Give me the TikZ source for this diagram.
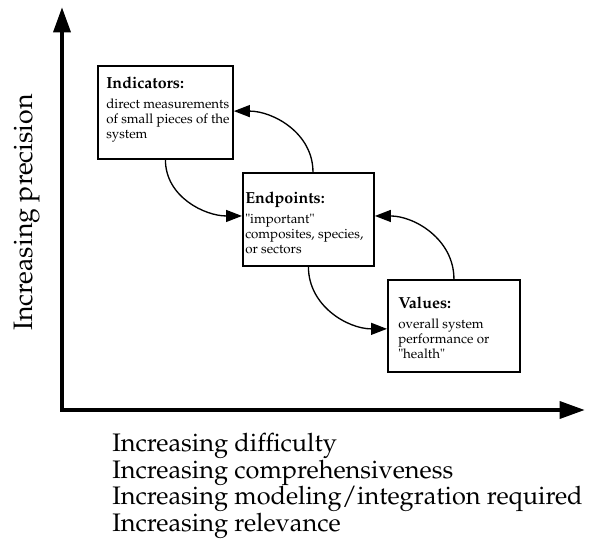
\documentclass[tikz,border=0pt]{standalone}
\usepackage[T1]{fontenc}
\usepackage{mathpazo}
\usepackage{pgf,tikz}
\usetikzlibrary{arrows.meta}
\begin{document}
\begin{tikzpicture}[line join=miter,x=0.75pt,y=0.75pt,
		stage/.style={draw,line width=1.4pt,anchor=north west,inner sep=0pt},
		stagetext/.style={anchor=north west,inner sep=0pt,align=left,font=\fontsize{10}{11}\selectfont},
		axistext/.style={inner sep=0pt,font=\fontsize{19}{20}\selectfont},
		axis/.style={line width=3.3pt,{Triangle[length=19pt,width=12.5pt]}-{Triangle[length=19pt,width=12.5pt]}},
		flow/.style={line width=1pt,-{Triangle[length=12pt,width=9pt]}}]
		\useasboundingbox (0,0) rectangle (596,540);
		\coordinate (ytip) at (62,533);
		\coordinate (o) at (62,130);
		\coordinate (xtip) at (585,130);
		\draw[axis] (ytip) -- (o) -- (xtip);
		\node[axistext,font=\fontsize{20}{20}\selectfont,rotate=90,anchor=base] (ylab) at (32,327.5) {Increasing precision};
		\node[axistext,anchor=north west,align=left] (xlab) at (112,107) {Increasing difficulty\\Increasing comprehensiveness\\Increasing modeling/integration required\\Increasing relevance};
		\node[stage,minimum width=101.25pt,minimum height=69.75pt] (ind) at (97,475) {};
		\node[stage,minimum width=98.25pt,minimum height=69.75pt] (endp) at (242,368) {};
		\node[stage,minimum width=99pt,minimum height=69pt] (val) at (387,261) {};
		\node[stagetext] (indtext) at (106,463) {{\fontsize{12}{11}\selectfont\bfseries Indicators:}\\[4pt]direct measurements\\of small pieces of the\\system};
		\node[stagetext] (endptext) at (245,348) {{\fontsize{12}{11}\selectfont\bfseries Endpoints:}\\[4pt]"important"\\composites, species,\\or sectors};
		\node[stagetext] (valtext) at (398,243) {{\fontsize{12}{11}\selectfont\bfseries Values:}\\[4pt]overall system\\performance or\\"health"};
		\draw[flow] (ind.south) to[out=-90,in=180] ([yshift=2.6pt]endp.west);
		\draw[flow] ([xshift=3.4pt]endp.north) to[out=90,in=0] ([yshift=1pt]ind.east);
		\draw[flow] (endp.south) to[out=-90,in=180] ([yshift=-2.2pt]val.west);
		\draw[flow] (val.north) to[out=90,in=0] ([yshift=2.6pt]endp.east);
\end{tikzpicture}
\end{document}
